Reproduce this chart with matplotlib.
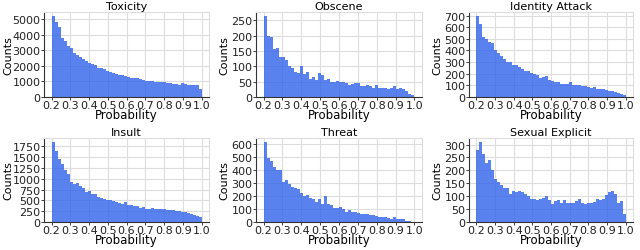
import numpy as np
import matplotlib
matplotlib.use("Agg")
import matplotlib.pyplot as plt
from matplotlib.ticker import MultipleLocator

titles = ["Toxicity", "Obscene", "Identity Attack", "Insult", "Threat", "Sexual Explicit"]
bin_start = 0.2
bin_end = 1.0
n_bins = 50

toxicity = [5250, 4850, 4500, 3800, 3600, 3300, 3150, 2850, 2700, 2550,
            2450, 2350, 2200, 2150, 2050, 1900, 1850, 1800, 1700, 1600,
            1550, 1500, 1450, 1400, 1350, 1300, 1250, 1250, 1200, 1150,
            1100, 1050, 1000, 1000, 950, 950, 950, 950, 900, 900,
            850, 850, 800, 900, 850, 800, 800, 800, 750, 500]
obscene = [265, 198, 195, 155, 158, 130, 130, 120, 100, 95,
           80, 78, 100, 75, 82, 60, 65, 55, 78, 70,
           55, 60, 50, 48, 52, 48, 50, 45, 40, 42,
           45, 44, 35, 35, 38, 35, 30, 38, 28, 30,
           28, 25, 30, 35, 25, 28, 25, 20, 10, 5]
identity_attack = [700, 625, 520, 500, 470, 460, 400, 380, 350, 330,
                   300, 300, 275, 275, 260, 240, 225, 220, 210, 200,
                   190, 165, 175, 180, 150, 140, 130, 125, 115, 115,
                   115, 130, 105, 105, 100, 95, 95, 85, 75, 90,
                   70, 65, 65, 60, 55, 55, 45, 35, 25, 15]
insult = [1850, 1650, 1450, 1350, 1200, 1100, 920, 870, 900, 830,
          780, 700, 710, 650, 640, 580, 560, 540, 510, 500,
          480, 460, 450, 420, 460, 400, 390, 380, 370, 320,
          340, 310, 310, 320, 300, 290, 290, 300, 280, 270,
          270, 260, 250, 230, 220, 210, 190, 170, 150, 110]
threat = [615, 490, 470, 420, 400, 400, 310, 320, 290, 270,
          265, 250, 220, 200, 210, 185, 175, 150, 180, 140,
          200, 140, 130, 110, 110, 115, 100, 80, 90, 80,
          75, 70, 60, 60, 65, 55, 50, 45, 35, 40,
          35, 30, 25, 40, 25, 20, 20, 10, 5, 3]
sexual_explicit = [280, 310, 265, 230, 240, 200, 165, 155, 145, 130,
                   130, 110, 120, 118, 122, 118, 110, 100, 90, 90,
                   85, 90, 92, 100, 85, 68, 82, 85, 75, 85,
                   72, 75, 72, 80, 88, 75, 70, 75, 75, 78,
                   90, 85, 88, 105, 115, 120, 108, 75, 80, 30]

series = [toxicity, obscene, identity_attack, insult, threat, sexual_explicit]
ytick_steps = [1000, 50, 100, 250, 100, 50]
xticks = [0.2, 0.3, 0.4, 0.5, 0.6, 0.7, 0.8, 0.9, 1.0]
xticklabels = ["0.2", "0.3", "0.4", "0.5", "0.6", "0.7", "0.8", "0.9", "1.0"]

W, H = 640, 251
fig = plt.figure(figsize=(6.4, 2.51), dpi=100)

col_px = [(44, 209), (256, 422), (469, 633)]
row_px = [(12.5, 98), (139, 223)]
ylabel_right_px = [13, 229, 442]

edges = np.linspace(bin_start, bin_end, n_bins + 1)
for i, (title, vals, step) in enumerate(zip(titles, series, ytick_steps)):
    r, c = divmod(i, 3)
    x0, x1 = col_px[c]
    y0, y1 = row_px[r]
    ax = fig.add_axes([x0 / W, 1 - y1 / H, (x1 - x0) / W, (y1 - y0) / H])
    ax.set_axisbelow(True)
    ax.grid(True, color="#dddddd", linewidth=0.8)
    ax.bar(edges[:-1], vals, width=np.diff(edges), align="edge",
           color="#3163ec", alpha=0.8, edgecolor="none")
    ax.set_xlim(0.16, 1.04)
    ax.set_ylim(0, max(vals) * 1.05)
    ax.yaxis.set_major_locator(MultipleLocator(step))
    ax.set_xticks(xticks)
    ax.set_xticklabels(xticklabels)
    ax.tick_params(labelsize=8, length=2, width=0.6, pad=0.5, colors="#222222")
    ax.tick_params(axis="x", pad=0)
    ax.set_title(title, fontsize=8, pad=2)
    ax.set_xlabel("Probability", fontsize=8.5, labelpad=-1)
    ax.set_ylabel("Counts", fontsize=8)
    ax.yaxis.set_label_coords((ylabel_right_px[c] - x0) / (x1 - x0), 0.5)
    for s in ["top", "right"]:
        ax.spines[s].set_color("#dddddd")
        ax.spines[s].set_linewidth(0.8)
    for s in ["left", "bottom"]:
        ax.spines[s].set_color("#333333")
        ax.spines[s].set_linewidth(0.8)

fig.savefig("out.png", dpi=100)
